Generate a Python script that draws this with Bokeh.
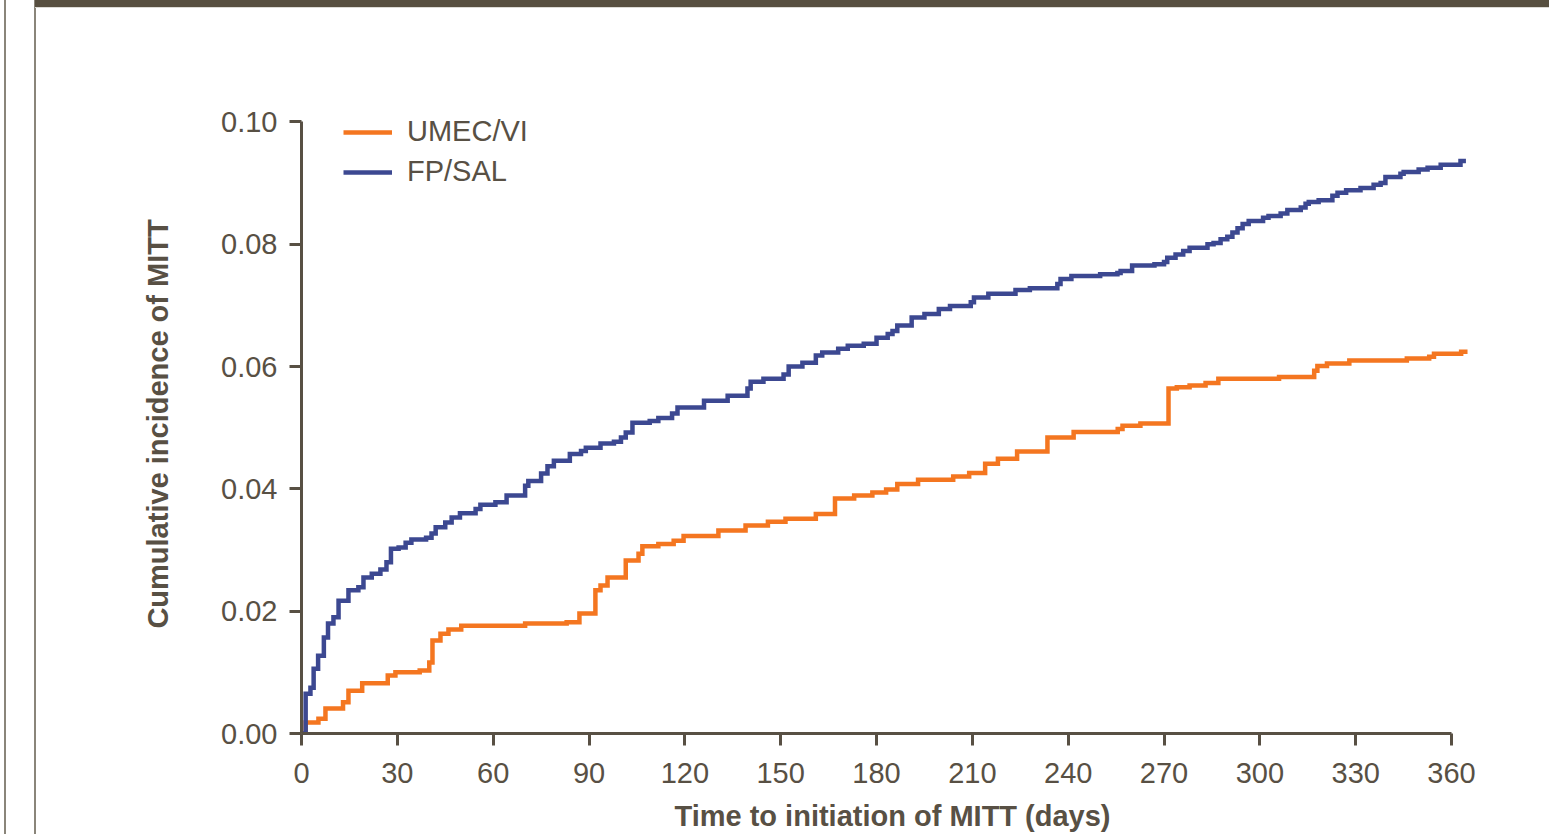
from bokeh.plotting import figure
from bokeh.models import Range1d, FixedTicker, PrintfTickFormatter
from bokeh.embed import file_html
from bokeh.resources import INLINE

# ---------------- data ----------------
series_names = ["UMEC/VI", "FP/SAL"]

umec_days = [0, 1.3, 5.3, 7.5, 13, 14.7, 19, 27, 29.4, 37, 40, 41, 43.5, 46, 50,
             70, 83, 87, 92, 93.6, 95.8, 101.5, 105.5, 106.7, 111.7, 116.5, 119.6,
             130.5, 139, 146, 151.5, 161, 167, 173, 178.7, 183, 186.5, 193, 204,
             209, 214, 218, 224, 233.5, 241.7, 255.5, 257, 262.6, 271.4, 274, 278,
             283, 287, 306, 317, 318, 321, 328, 346, 353, 354.5, 363, 365]
umec_cum = [0, 0.0018, 0.0024, 0.0041, 0.0051, 0.0070, 0.0082, 0.0095, 0.0100,
            0.0103, 0.0116, 0.0152, 0.0163, 0.0170, 0.0176, 0.0180, 0.0182, 0.0196,
            0.0234, 0.0242, 0.0255, 0.0283, 0.0294, 0.0306, 0.0310, 0.0315, 0.0323,
            0.0332, 0.0340, 0.0346, 0.0351, 0.0359, 0.0384, 0.0389, 0.0394, 0.0399,
            0.0408, 0.0415, 0.0420, 0.0426, 0.0441, 0.0449, 0.0461, 0.0484, 0.0493,
            0.0498, 0.0503, 0.0507, 0.0564, 0.0566, 0.0569, 0.0573, 0.0580, 0.0583,
            0.0593, 0.0601, 0.0605, 0.0610, 0.0613, 0.0616, 0.0621, 0.0624, 0.0624]

fpsal_days = [0, 1.3, 2.8, 3.8, 5.2, 7, 8.3, 10, 11.6, 14.7, 17.8, 19.4, 22, 24.7,
              26.6, 28, 30.4, 32.6, 34.4, 39, 40.7, 42, 45, 47, 49.6, 54.5, 56,
              60.7, 64.2, 70, 71, 75, 77, 79, 84, 87.5, 89, 93.6, 97.8, 100, 101.5,
              103.6, 109, 111.7, 116, 117.7, 126, 133.4, 139.6, 140.6, 144.6, 150.9,
              152.5, 156.8, 161, 163, 168, 171, 176, 180, 183.5, 185, 186.5, 191,
              195, 199.5, 203, 209.5, 210.5, 215, 223.5, 228, 236.6, 237.6, 241,
              250, 255.4, 256.4, 260, 267, 270, 271, 273.6, 276, 278, 283.6, 285.5,
              287.7, 289.8, 291.4, 293, 294.6, 296.5, 301, 302.7, 306.5, 308.6,
              312.8, 314.3, 315.3, 318.4, 322.7, 324.3, 327, 331.5, 335.6, 337.8,
              339.3, 344, 345, 349.7, 352.5, 356.6, 362.8, 364.5]
fpsal_cum = [0, 0.0065, 0.0075, 0.0106, 0.0127, 0.0157, 0.0180, 0.0190, 0.0217,
             0.0234, 0.0239, 0.0255, 0.0261, 0.0268, 0.0280, 0.0302, 0.0304, 0.0312,
             0.0317, 0.0320, 0.0327, 0.0337, 0.0345, 0.0353, 0.0360, 0.0367, 0.0374,
             0.0378, 0.0389, 0.0405, 0.0413, 0.0425, 0.0437, 0.0446, 0.0457, 0.0462,
             0.0467, 0.0474, 0.0477, 0.0484, 0.0492, 0.0508, 0.0511, 0.0516, 0.0523,
             0.0533, 0.0544, 0.0552, 0.0564, 0.0575, 0.0580, 0.0587, 0.0600, 0.0606,
             0.0618, 0.0623, 0.0629, 0.0634, 0.0637, 0.0647, 0.0653, 0.0658, 0.0667,
             0.0680, 0.0686, 0.0694, 0.0699, 0.0705, 0.0713, 0.0719, 0.0725, 0.0728,
             0.0735, 0.0743, 0.0748, 0.0751, 0.0753, 0.0756, 0.0765, 0.0767, 0.0771,
             0.0778, 0.0783, 0.0789, 0.0794, 0.0800, 0.0802, 0.0808, 0.0812, 0.0819,
             0.0826, 0.0833, 0.0838, 0.0843, 0.0846, 0.0850, 0.0856, 0.0860, 0.0866,
             0.0869, 0.0872, 0.0879, 0.0884, 0.0888, 0.0892, 0.0897, 0.0900, 0.0910,
             0.0915, 0.0918, 0.0922, 0.0925, 0.0930, 0.0936, 0.0936]

x_ticks = [0, 30, 60, 90, 120, 150, 180, 210, 240, 270, 300, 330, 360]
y_ticks = [0.0, 0.02, 0.04, 0.06, 0.08, 0.10]

assert len(umec_days) == len(umec_cum)
assert len(fpsal_days) == len(fpsal_cum)

# ---------------- style ----------------
TEXT = "#585044"
ORANGE = "#F47620"
BLUE = "#3C4891"
FONT = "Liberation Sans"

p = figure(width=1549, height=834, output_backend="svg", toolbar_location=None,
           x_range=Range1d(0, 370), y_range=Range1d(0, 0.1012),
           min_border_left=301, min_border_right=66,
           min_border_top=114, min_border_bottom=101)
p.outline_line_color = None
p.grid.visible = False
p.background_fill_color = "white"
p.border_fill_color = None
# decorative panel frame (dark top bar and thin grey side rules) as page background
p.styles = {
    "background-color": "white",
    "background-image": ("linear-gradient(#574F40, #574F40), "
                         "linear-gradient(#DCDAD5, #DCDAD5), "
                         "linear-gradient(#8A857A, #8A857A), "
                         "linear-gradient(#8A857A, #8A857A)"),
    "background-size": "1514px 7px, 1514px 1px, 2px 834px, 2px 834px",
    "background-position": "35px 0px, 35px 7px, 34px 0px, 4px 0px",
    "background-repeat": "no-repeat",
}

p.step(umec_days, umec_cum, mode="after", line_color=ORANGE, line_width=4.5,
       line_join="miter", legend_label=series_names[0])
p.step(fpsal_days, fpsal_cum, mode="after", line_color=BLUE, line_width=4.5,
       line_join="miter", legend_label=series_names[1])

for ax in (p.xaxis[0], p.yaxis[0]):
    ax.axis_line_color = TEXT
    ax.axis_line_width = 3
    ax.major_tick_line_color = TEXT
    ax.major_tick_line_width = 3
    ax.major_tick_out = 12
    ax.major_tick_in = 0
    ax.minor_tick_line_color = None
    ax.major_label_text_font = FONT
    ax.major_label_text_font_size = "29px"
    ax.major_label_text_color = TEXT
    ax.axis_label_text_font = FONT
    ax.axis_label_text_font_size = "29px"
    ax.axis_label_text_font_style = "bold"
    ax.axis_label_text_color = TEXT

p.xaxis.bounds = (0, 360)
p.yaxis.bounds = (0, 0.10)
p.xaxis.ticker = FixedTicker(ticks=x_ticks)
p.yaxis.ticker = FixedTicker(ticks=y_ticks)
p.yaxis.formatter = PrintfTickFormatter(format="%.2f")
p.xaxis.axis_label = "Time to initiation of MITT (days)"
p.yaxis.axis_label = "Cumulative incidence of MITT"
p.xaxis.major_label_standoff = 17
p.xaxis.axis_label_standoff = 14
p.yaxis.major_label_standoff = 12
p.yaxis.axis_label_standoff = 44

leg = p.legend[0]
leg.location = (42, 545)
leg.margin = 0
leg.padding = 0
leg.spacing = 7
leg.glyph_width = 49
leg.glyph_height = 20
leg.label_standoff = 15
leg.label_text_font = FONT
leg.label_text_font_size = "29px"
leg.label_text_color = TEXT
leg.background_fill_alpha = 0
leg.border_line_alpha = 0

open("out.html", "w").write(file_html(p, INLINE))
